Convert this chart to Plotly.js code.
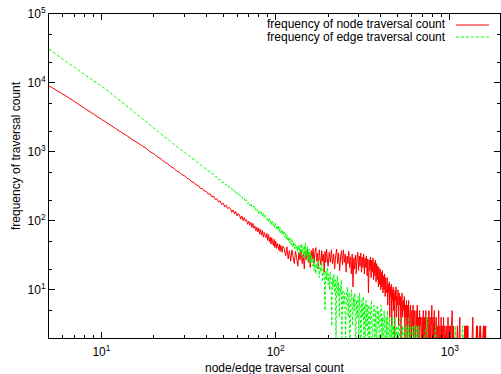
<!DOCTYPE html>
<html><head><meta charset="utf-8">
<script src="https://cdn.plot.ly/plotly-3.0.1.min.js"></script>
<style>html,body{margin:0;padding:0;background:#fff}#chart{width:501px;height:374px}</style>
</head><body><div id="chart"></div>
<script>
// frequency of node traversal count : [count, frequency]
const nodeTraversal = [
[5,9100],[6,6900],[7,5380],[8,4300],[9,3540],[10,2970],[11,2540],[12,2200],[13,1930],[14,1720],[15,1510],[16,1375],[17,1235],[18,1135],[19,1010],[20,935],[21,845],[22,790],[23,712],[24,672],[25,610],[26,583],[27,530],[28,512],[29,466],[30,452],[31,412],[32,401],[33,366],[34,361],[35,330],[36,325],[37,296],[38,294],[39,271],[40,267],[41,244],[42,246],[43,223],[44,229],[45,204],[46,210],[47,188],[48,195],[49,172],[50,181],[51,160],[52,169],[53,151],[54,156],[55,150],[56,133],[57,144],[58,126],[59,137],[60,118],[61,128],[62,121],[63,106],[64,118],[65,101],[66,111],[67,99],[68,104],[69,89],[70,99],[71,86],[72,95],[73,80],[74,92],[75,78],[76,84],[77,72],[78,81],[79,69],[80,78],[81,64],[82,75],[83,62],[84,72],[85,58],[86,68],[87,61],[88,57],[89,66],[90,52],[91,63],[92,50],[93,58],[94,46],[95,57],[96,49],[97,44],[98,54],[99,41],[100,51],[101,40],[102,47],[103,43],[104,38],[105,46],[106,36],[107,44],[108,39],[109,35],[110,43],
[112,40],[114,31],[116,42],[118,28],[120,37],[122,26],[124,38],[126,30],[128,24],[130,36],[132,29],[134,22],[136,35],[138,27],[140,38],[142,24],[144,33],[146,20],[148,36],[150,27],[152,39],[154,25],[156,34],[158,21],[160,37],[162,28],[164,40],[166,24],[168,35],[170,41],[172,26],[174,34],[176,20],[178,38],[180,28],[182,23],[184,37],[186,26],[188,33],[190,18],[192,36],[194,25],[196,39],[198,28],[200,22],
[203,35],[206,25],[209,38],[212,24],[215,33],[218,20],[221,31],[224,39],[227,24],[230,34],[233,19],[236,30],[239,37],[242,23],[245,38],[248,25],[251,33],[254,18],[257,31],[260,24],[263,36],[266,21],[269,30],[272,17],[275,33],[278,11],[281,29],[284,20],[287,32],[290,17],[293,29],[296,35],[299,19],[302,31],[305,22],[308,34],[311,18],[314,30],[317,21],[320,33],[323,17],[326,29],[329,21],[332,31],[335,16],[338,28],[341,9],[344,27],[347,19],[350,30],[353,15],[356,27],[359,18],[362,29],[365,14],[368,25],[371,16],[374,27],[377,13],[380,24],[383,14],[386,22],[389,11],[392,21],[395,12],[398,20],[401,10],[404,18],[407,11],[410,19],[413,9],[416,16],[419,10],[422,17],[425,8],[428,15],[431,9],
[434,10],[437,15],[440,6],[443,12],[446,9],[449,13],[452,4],[455,11],[458,8],[461,12],[464,3],[467,10],[470,7],[473,11],[476,5],[479,9],[482,2],[485,10],[488,7],[491,11],[494,4],[497,8],[500,6],[504,10],[508,3],[512,9],[516,6],[520,8],[524,2],[528,7],[532,9],[536,4],[540,7],[544,5],[548,8],[552,2],[556,6],[560,4],[564,7],[568,1],[572,6],[576,3],[580,7],[585,2],[590,5],[595,6],[600,1],[605,5],[610,3],[615,6],[620,2],[625,5],[630,4],[635,1],[640,5],[645,3],[650,6],[655,2],[660,4],[665,1],[670,5],[675,3],[680,4],[686,1],[692,4],[698,2],
[704,5],[710,1],[716,4],[722,2],[728,5],[734,1],[740,3],[746,4],[752,1],[758,5],[764,2],[770,4],[776,1],[782,3],[788,6],[794,1],[800,4],[807,2],[814,5],[821,1],[828,3],[835,4],[842,1],[849,3],[856,2],[863,5],[870,1],[877,3],[884,1],[891,4],[898,2],[905,3],[912,1],[920,4],[928,1],[936,3],[944,2],[952,1],[960,3],[968,1],[976,4],[984,1],[992,3],[1000,1],
[1005,3],[1012,1],[1020,3],[1031,5],[1040,1],[1050,3],[1062,1],[1075,2],[1090,1],[1105,3],[1120,1],[1141,4],[1150,1],[1170,2],[1190,1],[1219,3],[1224,1],[1230,3],[1236,1],[1245,3],[1251,1],[1258,3],[1263,1],[1269,3],[1280,1],[1310,2],[1330,1],[1355,4],[1365,1],[1400,1],[1425,3],[1432,1],[1440,3],[1455,1],[1490,3],[1495,1],[1500,3],[1520,1],[1560,3],[1567,1],[1575,3],[1590,1],[1600,3],[1604,1],[1608,3]
];

// frequency of edge traversal count : [count, frequency]
const edgeTraversal = [
[5,30800],[6,22100],[7,16900],[8,13250],[9,10800],[10,8950],[11,7560],[12,6300],[13,5350],[14,4600],[15,3990],[16,3490],[17,3090],[18,2740],[19,2450],[20,2210],[21,2000],[22,1815],[23,1660],[24,1525],[25,1395],[26,1300],[27,1195],[28,1120],[29,1040],[30,985],[31,915],[32,870],[33,808],[34,776],[35,722],[36,694],[37,648],[38,628],[39,590],[40,568],[41,531],[42,522],[43,480],[44,476],[45,436],[46,434],[47,396],[48,399],[49,362],[50,368],[51,338],[52,341],[53,310],[54,318],[55,290],[56,296],[57,268],[58,276],[59,249],[60,258],[61,233],[62,244],[63,219],[64,226],[65,204],[66,212],[67,190],[68,203],[69,176],[70,188],[71,166],[72,178],[73,161],[74,155],[75,164],[76,143],[77,154],[78,139],[79,147],[80,128],[81,140],[82,124],[83,133],[84,117],[85,129],[86,110],[87,121],[88,114],[89,103],[90,112],[91,97],[92,107],[93,93],[94,102],[95,88],[96,98],[97,85],[98,93],[99,80],[100,91],[101,78],[102,86],[103,74],[104,83],[105,70],[106,80],[107,67],[108,75],[109,64],[110,73],
[111,62],[112,68],[113,58],[114,66],[115,55],[116,63],[117,53],[118,59],[119,50],[120,56],[121,48],[122,55],[123,45],[124,52],[125,47],[126,41],[127,50],[128,43],[129,39],[130,46],[131,40],[132,44],[133,36],[134,42],[135,38],[136,45],[137,33],[138,41],[139,37],[140,47],[141,31],[142,43],[143,35],[144,40],[145,29],[146,44],[147,32],[148,48],[149,30],[150,38],[151,27],[152,42],[153,33],[154,36],[155,26],[156,39],[157,28],[158,34],[159,24],[160,31],
[162,22],[164,29],[166,19],[168,26],[170,17],[172,24],[174,20],[176,27],[178,15],[180,22],[182,18],[184,25],[186,13],[188,20],[190,16],[192,5],[194,19],[196,14],[198,21],[200,12],[202,17],[204,10],[206,18],[208,13],[210,3],[212,15],[214,11],[216,17],[218,9],[220,14],[222,2],[224,12],[226,16],[228,8],[230,13],[232,4],[234,11],[236,9],[238,14],[240,2],
[243,10],[246,6],[249,9],[252,2],[255,8],[258,11],[261,4],[264,9],[267,1],[270,7],[273,10],[276,3],[279,8],[282,5],[285,9],[288,1],[291,7],[294,4],[297,8],[300,2],[303,9],[306,5],[309,1],[312,7],[315,4],[318,8],[321,2],[324,6],[327,1],[330,7],[333,3],[336,6],[339,1],
[343,6],[347,2],[351,5],[355,7],[359,1],[363,4],[367,6],[371,2],[375,5],[379,1],[383,6],[387,3],[391,5],[395,1],[399,4],[403,6],[407,2],[411,4],[415,1],[419,5],[423,3],[427,1],[431,4],[435,2],[439,5],[443,1],[447,3],[451,4],[455,1],[459,3],[463,2],[467,4],[471,1],[475,3],[479,1],[483,4],[487,2],[491,1],[495,3],[499,1],
[505,3],[511,1],[517,4],[523,2],[529,1],[535,3],[541,1],[547,3],[553,2],[559,1],[565,3],[571,1],[578,4],[585,1],[592,3],[599,1],[606,2],[613,3],[620,1],[628,3],[636,1],[644,3],[652,1],[660,3],[668,1],[676,2],[685,1],
[700,1],[720,2],[740,4],[748,1],[780,2],[800,1],[830,3],[840,1],[880,2],[900,1],[950,2],[980,1],[1030,2],[1060,1],[1075,3],[1085,1],[1120,2],[1150,1],[1185,3],[1195,1]
];

const seriesNames = ['frequency of node traversal count', 'frequency of edge traversal count'];
const xTickVals = [10, 100, 1000];
const xTickText = ['10<sup>1</sup>', '10<sup>2</sup>', '10<sup>3</sup>'];
const xMinorVals = [6,7,8,9,20,30,40,50,60,70,80,90,200,300,400,500,600,700,800,900];
const yTickVals = [10, 100, 1000, 10000, 100000];
const yTickText = ['10<sup>1</sup>', '10<sup>2</sup>', '10<sup>3</sup>', '10<sup>4</sup>', '10<sup>5</sup>'];
const yMinorVals = [2,5,20,50,200,500,2000,5000,20000,50000];
const xTitle = 'node/edge traversal count';
const yTitle = 'frequency of traversal count';

const FONT = 'Liberation Sans, Arial, Helvetica, sans-serif';

const traces = [
  {x: nodeTraversal.map(p => p[0]), y: nodeTraversal.map(p => p[1]), type: 'scatter', mode: 'lines',
   name: seriesNames[0], line: {color: '#ff0000', width: 1, simplify: false}, hoverinfo: 'skip'},
  {x: edgeTraversal.map(p => p[0]), y: edgeTraversal.map(p => p[1]), type: 'scatter', mode: 'lines',
   name: seriesNames[1], line: {color: '#00ff00', width: 1, dash: '3px,2px', simplify: false}, hoverinfo: 'skip'}
];

const axisCommon = {
  type: 'log', tickmode: 'array', ticks: 'inside', ticklen: 6, tickwidth: 1, tickcolor: '#000',
  showline: true, linecolor: '#000', linewidth: 1, mirror: 'ticks', showgrid: false, zeroline: false,
  tickfont: {family: FONT, size: 12, color: '#000'}
};

const layout = {
  width: 501, height: 374,
  margin: {l: 49, r: 1, t: 14, b: 36, pad: 0},
  paper_bgcolor: '#fff', plot_bgcolor: '#fff',
  showlegend: false,
  font: {family: FONT, size: 12, color: '#000'},
  xaxis: Object.assign({}, axisCommon, {
    range: [Math.log10(5), Math.log10(1940)], tickvals: xTickVals, ticktext: xTickText,
    ticklabelstandoff: 3,
    minor: {tickmode: 'array', tickvals: xMinorVals, ticks: 'inside', ticklen: 3, tickwidth: 1, tickcolor: '#000', showgrid: false}
  }),
  yaxis: Object.assign({}, axisCommon, {
    range: [Math.log10(2), 5], tickvals: yTickVals, ticktext: yTickText,
    minor: {tickmode: 'array', tickvals: yMinorVals, ticks: 'inside', ticklen: 3, tickwidth: 1, tickcolor: '#000', showgrid: false}
  }),
  annotations: [
    {xref: 'paper', yref: 'paper', x: 0.8847, y: 0.968, xanchor: 'right', yanchor: 'middle', showarrow: false,
     text: seriesNames[0], font: {family: FONT, size: 12, color: '#000'}},
    {xref: 'paper', yref: 'paper', x: 0.8847, y: 0.929, xanchor: 'right', yanchor: 'middle', showarrow: false,
     text: seriesNames[1], font: {family: FONT, size: 12, color: '#000'}},
    {xref: 'paper', yref: 'paper', x: 0.5, y: -0.0926, xanchor: 'center', yanchor: 'middle', showarrow: false,
     text: xTitle, font: {family: FONT, size: 12, color: '#000'}},
    {xref: 'paper', yref: 'paper', x: -0.073, y: 0.562, xanchor: 'center', yanchor: 'middle', showarrow: false,
     textangle: -90, text: yTitle, font: {family: FONT, size: 12, color: '#000'}}
  ],
  shapes: [
    {type: 'line', xref: 'paper', yref: 'paper', x0: 0.9024, x1: 0.9756, y0: 0.966, y1: 0.966,
     line: {color: '#ff0000', width: 1}},
    {type: 'line', xref: 'paper', yref: 'paper', x0: 0.9024, x1: 0.9756, y0: 0.929, y1: 0.929,
     line: {color: '#00ff00', width: 1, dash: '3px,2px'}}
  ]
};

Plotly.newPlot('chart', traces, layout, {staticPlot: true, displayModeBar: false});
</script>
</body></html>
